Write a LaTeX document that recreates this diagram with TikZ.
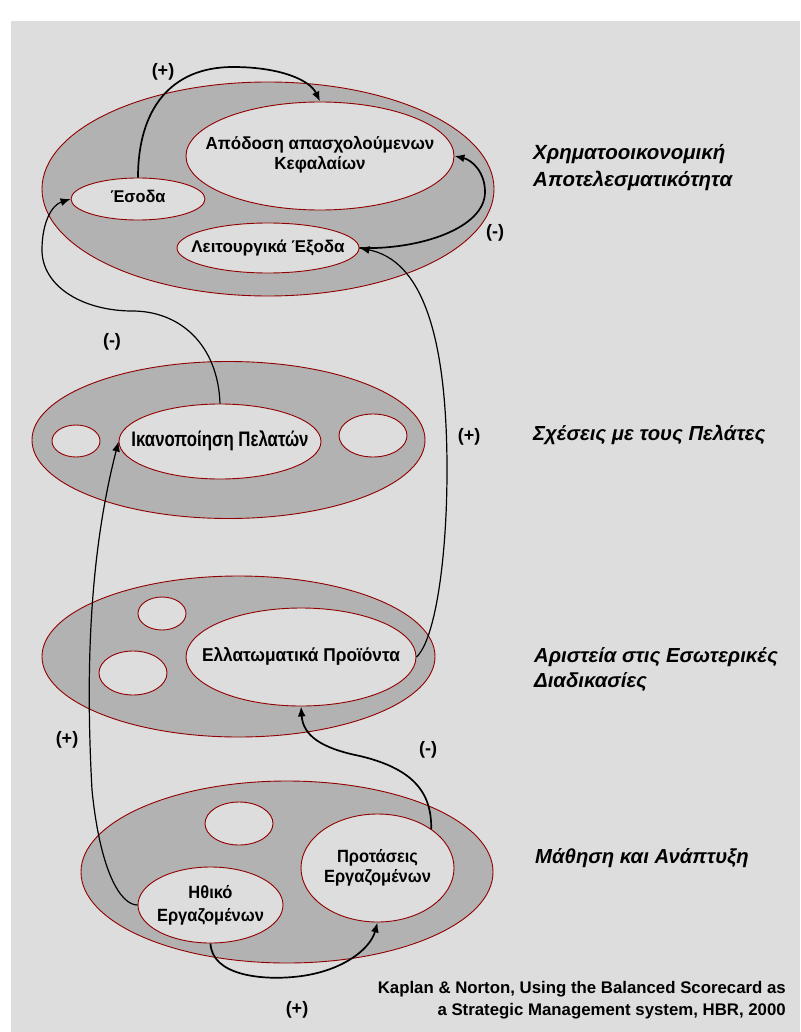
\documentclass[tikz,border=0pt]{standalone}
\usepackage{fontspec}
\setmainfont{Liberation Sans}
\usepackage{graphicx}
\usetikzlibrary{shapes.geometric,arrows.meta}

\definecolor{panel}{RGB}{221,221,221}
\definecolor{ring}{RGB}{178,178,178}
\definecolor{rim}{RGB}{145,0,0}

% #1 size, #2 baseline skip, #3 horizontal squeeze, #4 lines
\newcommand\itemlbl[4]{\fontsize{#1}{#2}\selectfont\bfseries
  \scalebox{#3}[1]{\begin{tabular}{@{}c@{}}#4\end{tabular}}}
\newcommand\sgntxt{\fontsize{18}{21}\selectfont\bfseries}
\newcommand\citetxt{\fontsize{16.8}{22}\selectfont\bfseries}

\tikzset{
  layer/.style={ellipse, draw=rim, fill=ring, line width=0.9pt, inner sep=0pt},
  item/.style={ellipse, draw=rim, fill=panel, line width=0.9pt, inner sep=0pt},
  caption/.style={label={[inner sep=0pt]center:#1}},
  thicklink/.style={draw=black, line width=1.7pt, -{Latex[length=10pt,width=8pt]}},
  thinlink/.style={draw=black, line width=1.2pt, -{Latex[length=10pt,width=8pt]}},
  sign/.style={font=\sgntxt, inner sep=0pt},
  heading/.style={anchor=base west, align=left, inner sep=0pt},
}

\begin{document}
\begin{tikzpicture}[x=1pt,y=-1pt]
\useasboundingbox (0,0) rectangle (800,1032);
\fill[panel] (11,21) rectangle (800,1032);

% perspective layers
\node[layer, minimum width=452pt, minimum height=214pt] (fin) at (268,189) {};
\node[layer, minimum width=393pt, minimum height=157pt] (cust) at (228.5,440) {};
\node[layer, minimum width=393pt, minimum height=161pt] (proc) at (238.5,656.5) {};
\node[layer, minimum width=412pt, minimum height=182pt] (learn) at (287,872) {};

% financial measures
\node[item, minimum width=268pt, minimum height=108pt,
  caption={\itemlbl{17.5}{20}{0.97}{Απόδοση απασχολούμενων\\Κεφαλαίων}}] (roce) at (320,156) {};
\node[item, minimum width=134pt, minimum height=42pt,
  caption={\itemlbl{17}{20}{0.96}{Έσοδα}}] (rev) at (138,199) {};
\node[item, minimum width=182pt, minimum height=50pt,
  caption={\itemlbl{17}{20}{1}{Λειτουργικά Έξοδα}}] (opex) at (268,248) {};

% customer measures
\node[item, minimum width=48pt, minimum height=32pt] (c1) at (76,441) {};
\node[item, minimum width=202pt, minimum height=75pt,
  caption={\itemlbl{21}{24}{0.8}{Ικανοποίηση Πελατών}}] (sat) at (220,441.5) {};
\node[item, minimum width=68pt, minimum height=43pt] (c2) at (373,435.5) {};

% internal process measures
\node[item, minimum width=48pt, minimum height=33pt] (p1) at (162,613.5) {};
\node[item, minimum width=68pt, minimum height=44pt] (p2) at (133,673) {};
\node[item, minimum width=230pt, minimum height=98pt,
  caption={\itemlbl{18.6}{22}{0.93}{Ελλατωματικά Προϊόντα}}] (defect) at (301,657) {};

% learning and growth measures
\node[item, minimum width=68pt, minimum height=43pt] (l1) at (239,823.5) {};
\node[item, minimum width=145pt, minimum height=76pt,
  caption={\itemlbl{17.7}{23}{0.93}{Ηθικό\\Εργαζομένων}}] (morale) at (210.5,905) {};
\node[item, minimum width=153pt, minimum height=108pt,
  caption={\itemlbl{17.7}{20}{0.93}{Προτάσεις\\Εργαζομένων}}] (sugg) at (377.5,868) {};

% cause and effect links
\draw[thicklink] (rev.north) .. controls (138,110) and (170,67) .. (233,67)
  .. controls (280,67) and (310,80) .. (roce.north);
\draw[thicklink] (opex.east) .. controls (420,250) and (485,228) .. (485,192)
  .. controls (485,172) and (472,160) .. (roce.east);
\draw[thinlink] (defect.east) .. controls (435,640) and (447,560) .. (447,470)
  .. controls (447,330) and (420,260) .. (opex.east);
\draw[thinlink] (sat.north) .. controls (218,345) and (180,310) .. (130,311)
  .. controls (80,310) and (42,285) .. (42,250)
  .. controls (42,222) and (52,205) .. (rev.west);
\draw[thinlink] (morale.west) .. controls (120,905) and (100,870) .. (92,790)
  .. controls (86,680) and (88,560) .. (sat.west);
\draw[thicklink] (sugg.36) .. controls (432,790) and (410,768) .. (360,756)
  .. controls (320,748) and (303,735) .. (defect.south);
\draw[thicklink] (morale.south) .. controls (212,975) and (260,980) .. (293,977)
  .. controls (340,973) and (370,950) .. (sugg.south);

% link signs
\node[sign] (s1) at (163,72) {(+)};
\node[sign] (s2) at (495,233) {(-)};
\node[sign] (s3) at (112,342) {(-)};
\node[sign] (s4) at (469,437) {(+)};
\node[sign] (s5) at (67,740) {(+)};
\node[sign] (s6) at (428,750) {(-)};
\node[sign] (s7) at (297,1010) {(+)};

% perspective titles (anchored on the last line's baseline)
\node[heading, font=\fontsize{20.5}{27}\selectfont\bfseries\itshape] (t1) at (533,187)
  {Χρηματοοικονομική\\Αποτελεσματικότητα};
\node[heading, font=\fontsize{20.3}{25}\selectfont\bfseries\itshape] (t2) at (533,440)
  {Σχέσεις με τους Πελάτες};
\node[heading, font=\fontsize{20.3}{25}\selectfont\bfseries\itshape] (t3) at (534,687)
  {Αριστεία στις Εσωτερικές\\Διαδικασίες};
\node[heading, font=\fontsize{20.3}{25}\selectfont\bfseries\itshape] (t4) at (535,863)
  {Μάθηση και Ανάπτυξη};

% source
\node[font=\citetxt, anchor=base east, align=right, inner sep=0pt] (src) at (786,1015)
  {Kaplan \& Norton, Using the Balanced Scorecard as\\a Strategic Management system, HBR, 2000};
\end{tikzpicture}
\end{document}
